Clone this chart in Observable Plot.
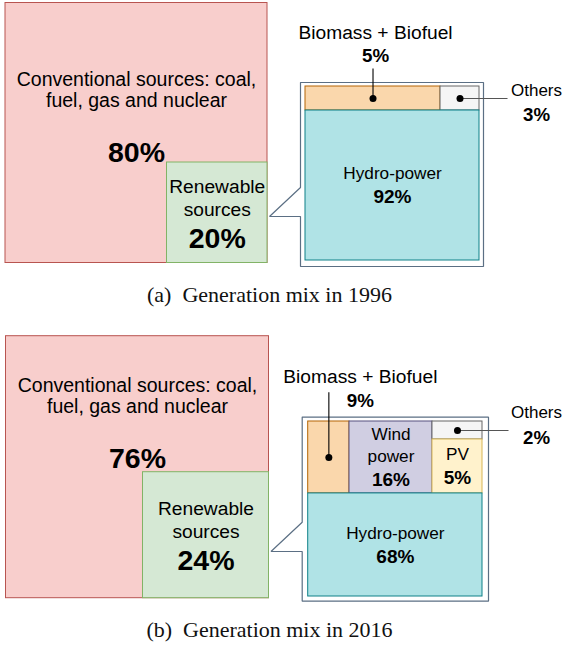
<!DOCTYPE html>
<html>
<head>
<meta charset="utf-8">
<script src="https://cdn.jsdelivr.net/npm/d3@7"></script>
<script src="https://cdn.jsdelivr.net/npm/@observablehq/plot@0.6"></script>
<style>
  body { margin: 0; background: #fff; width: 563px; height: 648px; overflow: hidden; }
  .panel svg { display: block; background: #fff; overflow: visible; }
  .cap { font-family: "Liberation Serif", "Times New Roman", serif; font-size: 22px; line-height: 20px;
         text-align: center; width: 539px; color: #111; white-space: pre; }
</style>
</head>
<body>
<div id="root"></div>
<script>
// ---------------- DATA ----------------
const captions = ["(a)  Generation mix in 1996", "(b)  Generation mix in 2016"];
const mainNames = ["Conventional sources: coal,\nfuel, gas and nuclear", "Renewable\nsources"];
const mainShares1996 = [80, 20];
const mainShares2016 = [76, 24];
const renewNames1996 = ["Hydro-power", "Biomass + Biofuel", "Others"];
const renewShares1996 = [92, 5, 3];
const renewNames2016 = ["Hydro-power", "Biomass + Biofuel", "Wind\npower", "PV", "Others"];
const renewShares2016 = [68, 9, 16, 5, 2];

// ---------------- STYLES ----------------
const fontSans = '"Liberation Sans", Arial, Helvetica, sans-serif';
const styles = {
  [mainNames[0]]: {fill: "#f8cecc", stroke: "#b85450"},
  [mainNames[1]]: {fill: "#d5e8d4", stroke: "#82b366"},
  "Hydro-power": {fill: "#b0e3e6", stroke: "#0e8088"},
  "Biomass + Biofuel": {fill: "#fad7ac", stroke: "#b46504"},
  "Wind\npower": {fill: "#d0cee2", stroke: "#56517e"},
  "PV": {fill: "#fff2cc", stroke: "#d6b656"},
  "Others": {fill: "#f5f5f5", stroke: "#666666"}
};
const calloutStroke = "#5b6f84";

// ---------------- LAYOUT (geometry, in layout units) ----------------
const layouts = [
  {
    height: 270,
    main: {x1: 5, y1: 2.5, x2: 267, y2: 262.5},
    renewSide: 100.5,
    convPctAbove: 10,
    callout: {x1: 300, y1: 82, x2: 483, y2: 266},
    pad: {l: 5, r: 4, t: 4, b: 6},
    tail: {top: 105, bottom: 134, gap: 2},
    tree: {topRow: 0.138, base: "Hydro-power",
           columns: [{w: 0.776, stack: [{name: "Biomass + Biofuel"}]}, {stack: [{name: "Others"}]}]},
    ext: {
      "Biomass + Biofuel": {side: "top", dx: 2.5, nameY: -50, pctY: -27, leaderTop: -14, nameSize: 19.2, pctSize: 18.8, leader: "#000"},
      "Others": {side: "right", x: 536, nameDy: -8, pctDy: 17, leaderEnd: 507, nameSize: 17, pctSize: 18.7, leader: "#555"}
    }
  },
  {
    height: 270,
    main: {x1: 5.5, y1: 2.7, x2: 268.5, y2: 264.7},
    renewSide: 126,
    convPctAbove: 13,
    callout: {x1: 301.7, y1: 83.7, x2: 488, y2: 267.7},
    pad: {l: 6, r: 6, t: 4.3, b: 4.7},
    tail: {top: 105, bottom: 134.3, gap: 2},
    tree: {topRow: 0.411, base: "Hydro-power",
           columns: [{w: 0.237, stack: [{name: "Biomass + Biofuel"}]},
                     {w: 0.476, stack: [{name: "Wind\npower"}]},
                     {stack: [{name: "Others", h: 0.25}, {name: "PV"}]}]},
    ext: {
      "Biomass + Biofuel": {side: "top", dx: 31.5, nameY: -40, pctY: -16.7, leaderTop: -25, nameSize: 19.2, pctSize: 18.8, leader: "#000"},
      "Others": {side: "right", x: 536, nameDy: -18.3, pctDy: 7.3, leaderEnd: 508, nameSize: 17, pctSize: 18.7, leader: "#555"}
    }
  }
];

const panels = [
  {caption: captions[0], shares: mainShares1996, names: renewNames1996, values: renewShares1996, layout: layouts[0]},
  {caption: captions[1], shares: mainShares2016, names: renewNames2016, values: renewShares2016, layout: layouts[1]}
];

// ---------------- HELPERS ----------------
function treemapCells(box, spec) {
  const cells = [];
  const rowY2 = box.y1 + spec.topRow * (box.y2 - box.y1);
  let x = box.x1;
  spec.columns.forEach(col => {
    const x2 = col.w == null ? box.x2 : x + col.w * (box.x2 - box.x1);
    let y = box.y1;
    col.stack.forEach(c => {
      const y2 = c.h == null ? rowY2 : y + c.h * (rowY2 - box.y1);
      cells.push({name: c.name, x1: x, x2, y1: y, y2});
      y = y2;
    });
    x = x2;
  });
  cells.push({name: spec.base, x1: box.x1, x2: box.x2, y1: rowY2, y2: box.y2});
  return cells;
}

function blockLines(name, pct, cx, cy, gap, pctGap, nameSize, pctSize, texts) {
  const lines = name.split("\n");
  const span = (lines.length - 1) * gap + pctGap;
  let y = cy - span / 2;
  lines.forEach((t, i) => { texts.push({x: cx, y: y + i * gap, text: t, size: nameSize, weight: "normal"}); });
  texts.push({x: cx, y: y + (lines.length - 1) * gap + pctGap, text: pct + "%", size: pctSize, weight: "bold"});
}

function panelPlot(p) {
  const L = p.layout;
  const m = L.main;
  const renew = {x1: m.x2 - L.renewSide, x2: m.x2, y1: m.y2 - L.renewSide, y2: m.y2};
  const mainRects = [
    {name: mainNames[0], share: p.shares[0], ...m},
    {name: mainNames[1], share: p.shares[1], ...renew}
  ];
  const c = L.callout;
  const inner = {x1: c.x1 + L.pad.l, x2: c.x2 - L.pad.r, y1: c.y1 + L.pad.t, y2: c.y2 - L.pad.b};
  const cells = treemapCells(inner, L.tree).map(d => ({...d, share: p.values[p.names.indexOf(d.name)]}));

  // callout outline with tail pointing to the renewable square
  const tipX = renew.x2 + L.tail.gap;
  const outline = [
    {x: c.x1, y: c.y1}, {x: c.x2, y: c.y1}, {x: c.x2, y: c.y2}, {x: c.x1, y: c.y2},
    {x: c.x1, y: c.y1 + L.tail.bottom}, {x: tipX, y: c.y1 + L.tail.bottom},
    {x: c.x1, y: c.y1 + L.tail.top}, {x: c.x1, y: c.y1}
  ];

  const texts = [], links = [], dots = [];
  // conventional label
  const convLines = mainRects[0].name.split("\n");
  const cx0 = (m.x1 + m.x2) / 2;
  const pctY = renew.y1 - L.convPctAbove;
  convLines.forEach((t, i) => texts.push({x: cx0, y: pctY - 52 - (convLines.length - 1 - i) * 21, text: t, size: 19.5, weight: "normal"}));
  texts.push({x: cx0, y: pctY, text: mainRects[0].share + "%", size: 28.5, weight: "bold"});
  // renewable label
  blockLines(mainRects[1].name, mainRects[1].share, (renew.x1 + renew.x2) / 2, (renew.y1 + renew.y2) / 2, 23, 29, 19.2, 28.5, texts);

  // callout cells
  cells.forEach(d => {
    const cx = (d.x1 + d.x2) / 2, cy = (d.y1 + d.y2) / 2;
    const e = L.ext[d.name];
    if (!e) {
      blockLines(d.name, d.share, cx, cy, 21.7, 23.5, 17.2, 19, texts);
    } else if (e.side === "top") {
      texts.push({x: cx + e.dx, y: c.y1 + e.nameY, text: d.name, size: e.nameSize, weight: "normal"});
      texts.push({x: cx + e.dx, y: c.y1 + e.pctY, text: d.share + "%", size: e.pctSize, weight: "bold"});
      links.push({x1: cx, y1: c.y1 + e.leaderTop, x2: cx, y2: cy, stroke: e.leader});
      dots.push({x: cx, y: cy});
    } else {
      texts.push({x: e.x, y: cy + e.nameDy, text: d.name, size: e.nameSize, weight: "normal"});
      texts.push({x: e.x, y: cy + e.pctDy, text: d.share + "%", size: e.pctSize, weight: "bold"});
      links.push({x1: cx, y1: cy, x2: e.leaderEnd, y2: cy, stroke: e.leader});
      dots.push({x: cx, y: cy});
    }
  });

  const textGroups = d3.groups(texts, d => d.size + "|" + d.weight);
  const textMarks = textGroups.map(([key, arr]) => Plot.text(arr, {
    x: "x", y: "y", text: "text", fontSize: arr[0].size, fontWeight: arr[0].weight,
    fontFamily: fontSans, fill: "#000", textAnchor: "middle", lineAnchor: "middle"
  }));

  return Plot.plot({
    width: 563, height: L.height, margin: 0,
    x: {domain: [0, 563], range: [0, 563], axis: null},
    y: {domain: [0, L.height], range: [0, L.height], axis: null},
    color: {type: "identity"},
    style: {background: "#fff"},
    marks: [
      Plot.rect(mainRects, {x1: "x1", x2: "x2", y1: "y1", y2: "y2",
        fill: d => styles[d.name].fill, stroke: d => styles[d.name].stroke, strokeWidth: 1}),
      Plot.line(outline, {x: "x", y: "y", stroke: calloutStroke, strokeWidth: 1.2, strokeLinejoin: "miter"}),
      Plot.rect(cells, {x1: "x1", x2: "x2", y1: "y1", y2: "y2",
        fill: d => styles[d.name].fill, stroke: d => styles[d.name].stroke, strokeWidth: 1}),
      Plot.link(links, {x1: "x1", y1: "y1", x2: "x2", y2: "y2", stroke: "stroke", strokeWidth: 1.1}),
      Plot.dot(dots, {x: "x", y: "y", r: 3.5, fill: "#000", stroke: "none"}),
      ...textMarks
    ]
  });
}

// ---------------- RENDER ----------------
const root = document.getElementById("root");
panels.forEach((p, i) => {
  const wrap = document.createElement("div");
  wrap.className = "panel";
  wrap.appendChild(panelPlot(p));
  root.appendChild(wrap);
  const cap = document.createElement("div");
  cap.className = "cap";
  cap.style.paddingTop = (i === 0 ? 15 : 17) + "px";
  cap.style.height = (i === 0 ? 48 : 28) + "px";
  cap.textContent = p.caption;
  root.appendChild(cap);
});
</script>
</body>
</html>
